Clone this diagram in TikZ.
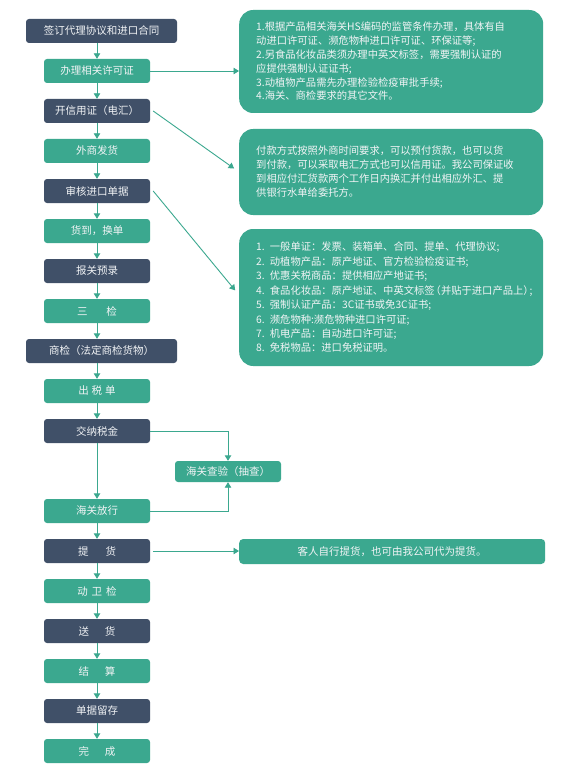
\documentclass[tikz,border=0pt]{standalone}
\usepackage{fontspec}
\setmainfont{Noto Sans CJK SC}
\usetikzlibrary{arrows.meta,positioning}
\definecolor{gr}{RGB}{59,168,143}
\definecolor{dk}{RGB}{64,80,104}
\definecolor{tx}{RGB}{242,244,246}
\tikzset{
  base/.style={rounded corners=3pt, minimum height=24pt, inner sep=0pt, text=tx, font=\fontsize{10.5}{12}\selectfont},
  gbox/.style={base, fill=gr, minimum width=106pt},
  dbox/.style={base, fill=dk, minimum width=106pt},
  dwide/.style={base, fill=dk, minimum width=151pt},
  note/.style={fill=gr, text=tx, rounded corners=14pt, text width=270pt, inner xsep=17pt, inner ysep=0pt, align=left, anchor=west},
  arr/.style={draw=gr, line width=0.9pt, -{Triangle[width=6.5pt,length=5.5pt]}},
}
\begin{document}
\begin{tikzpicture}[x=1pt,y=-1pt]
\useasboundingbox[fill=white] (0,0) rectangle (576,770);
% main chain
\node[dwide] (n1)  at (101.5,31) {签订代理协议和进口合同};
\node[gbox]  (n2)  at (97,71)  {办理相关许可证};
\node[dbox]  (n3)  at (97,111) {开信用证（电汇）};
\node[gbox]  (n4)  at (97,151) {外商发货};
\node[dbox]  (n5)  at (97,191) {审核进口单据};
\node[gbox]  (n6)  at (97,231) {货到，换单};
\node[dbox]  (n7)  at (97,271) {报关预录};
\node[gbox]  (n8)  at (97,311) {三\hspace{19pt}检};
\node[dwide] (n9)  at (101.5,351) {商检（法定商检货物）};
\node[gbox]  (n10) at (97,391) {出\hspace{3pt}税\hspace{3pt}单};
\node[dbox]  (n11) at (97,431) {交纳税金};
\node[gbox, minimum width=106pt, minimum height=21pt] (chk) at (228,471.5) {海关查验（抽查）};
\node[gbox]  (n12) at (97,511) {海关放行};
\node[dbox]  (n13) at (97,551) {提\hspace{17pt}货};
\node[gbox]  (n14) at (97,591) {动\hspace{4pt}卫\hspace{4pt}检};
\node[dbox]  (n15) at (97,631) {送\hspace{16pt}货};
\node[gbox]  (n16) at (97,671) {结\hspace{16pt}算};
\node[dbox]  (n17) at (97,711) {单据留存};
\node[gbox]  (n18) at (97,751) {完\hspace{16pt}成};
% notes
\node[note, minimum height=103pt, font=\fontsize{10.3}{13.8}\selectfont] (b1) at (239,61.5) {%
1.根据产品相关海关HS编码的监管条件办理，具体有自\\
动进口许可证、濒危物种进口许可证、环保证等;\\
2.另食品化妆品类须办理中英文标签，需要强制认证的\\
应提供强制认证证书;\\
3.动植物产品需先办理检验检疫审批手续;\\
4.海关、商检要求的其它文件。};
\node[note, minimum height=86pt, font=\fontsize{10.3}{14}\selectfont] (b2) at (239,172) {%
付款方式按照外商时间要求，可以预付货款，也可以货\\
到付款，可以采取电汇方式也可以信用证。我公司保证收\\
到相应付汇货款两个工作日内换汇并付出相应外汇、提\\
供银行水单给委托方。};
\node[note, minimum height=137pt, font=\fontsize{10.3}{14.4}\selectfont] (b3) at (239,297.5) {%
1. 一般单证：发票、装箱单、合同、提单、代理协议;\\
2. 动植物产品：原产地证、官方检验检疫证书;\\
3. 优惠关税商品：提供相应产地证书;\\
4. 食品化妆品：原产地证、中英文标签\kern-4pt（并贴于进口产品上）\kern-4pt;\\
5. 强制认证产品：3C证书或免3C证书;\\
6. 濒危物种:濒危物种进口许可证;\\
7. 机电产品：自动进口许可证;\\
8. 免税物品：进口免税证明。};
\node[note, rounded corners=4pt, text width=306pt, minimum height=25pt, inner xsep=0pt, align=center, font=\fontsize{10.5}{12}\selectfont] (b4) at (239,551.5) {客人自行提货，也可由我公司代为提货。};
% vertical chain arrows (column x of the narrow boxes)
\foreach \a/\b in {n1/n2,n2/n3,n3/n4,n4/n5,n5/n6,n6/n7,n7/n8,n8/n9,n9/n10,n10/n11,n11/n12,n12/n13,n13/n14,n14/n15,n15/n16,n16/n17,n17/n18}
  \draw[arr] (\a.south -| n2.south) -- (\b.north -| n2.south);
% side arrows
\draw[arr] (n2.east) -- (n2.east -| b1.west);
\draw[arr, shorten >=6pt] ([xshift=3pt]n3.east) -- (b2.west);
\draw[arr, shorten >=6pt] ([xshift=3pt]n5.east) -- ([yshift=2.5pt]b3.west);
\draw[arr] (n11.east) -| (chk.north);
\draw[arr] (n12.east) -| (chk.south);
\draw[arr] ([xshift=3pt]n13.east) -- (n13.east -| b4.west);
\end{tikzpicture}
\end{document}
